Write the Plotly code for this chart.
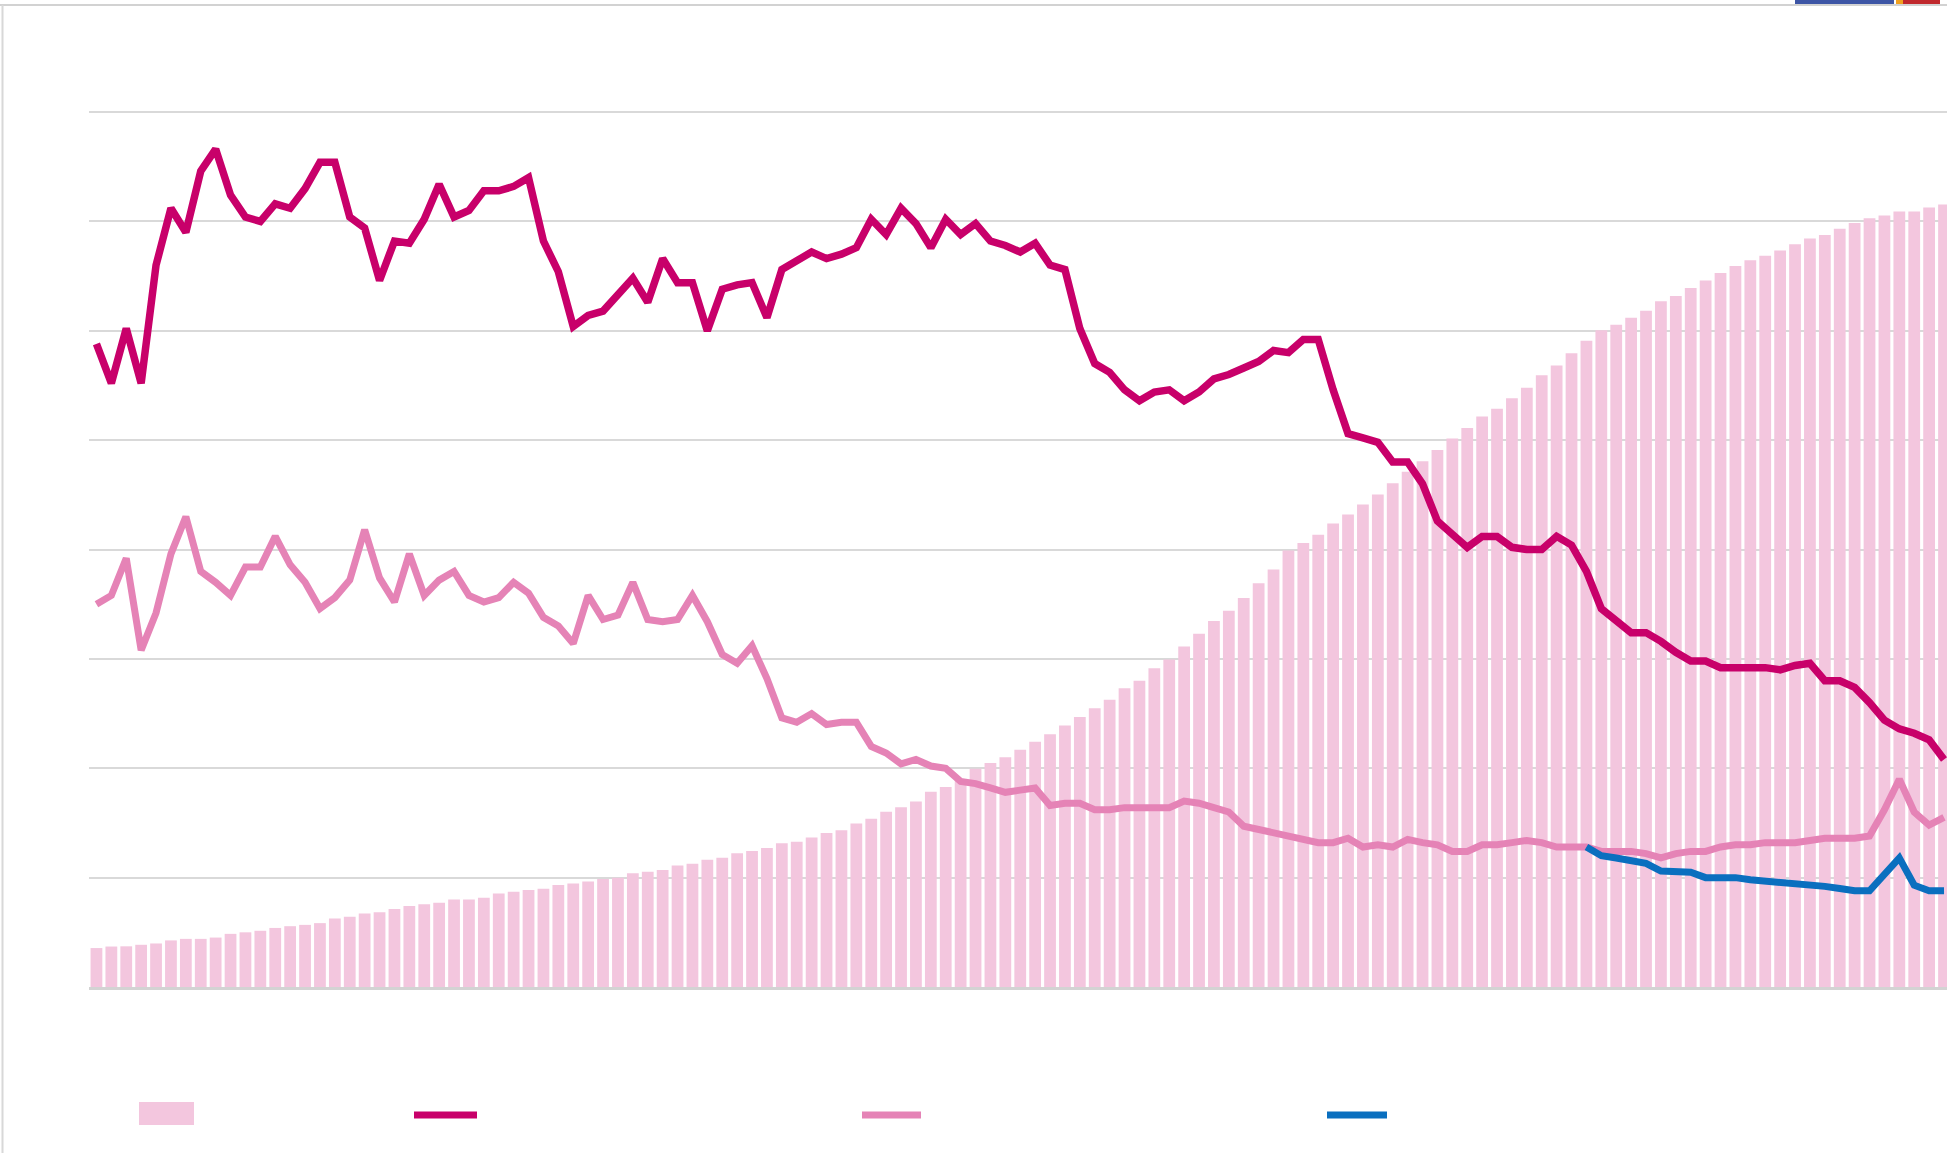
import plotly.graph_objects as go

# ---- data ----
years = list(range(1899, 2024))  # 125 yearly categories (axis labels are not shown)

population = [
    1.78, 1.85, 1.86, 1.93, 1.99, 2.13, 2.20, 2.20, 2.26, 2.43,
    2.50, 2.57, 2.70, 2.78, 2.84, 2.92, 3.13, 3.21, 3.36, 3.42,
    3.57, 3.70, 3.78, 3.85, 4.00, 4.00, 4.08, 4.28, 4.36, 4.43,
    4.49, 4.66, 4.73, 4.82, 4.94, 4.99, 5.20, 5.27, 5.35, 5.55,
    5.63, 5.82, 5.91, 6.12, 6.22, 6.36, 6.57, 6.64, 6.83, 7.04,
    7.17, 7.48, 7.69, 8.01, 8.22, 8.48, 8.93, 9.14, 9.45, 9.98,
    10.24, 10.50, 10.85, 11.21, 11.55, 11.95, 12.34, 12.74, 13.13, 13.66,
    14.00, 14.57, 14.97, 15.57, 16.15, 16.73, 17.20, 17.78, 18.46, 19.09,
    19.96, 20.30, 20.67, 21.19, 21.60, 22.06, 22.51, 23.03, 23.56, 24.03,
    24.55, 25.08, 25.55, 26.08, 26.44, 26.92, 27.39, 27.97, 28.41, 28.97,
    29.54, 30.02, 30.28, 30.59, 30.91, 31.35, 31.59, 31.96, 32.30, 32.64,
    32.96, 33.22, 33.43, 33.67, 33.95, 34.22, 34.38, 34.66, 34.93, 35.14,
    35.27, 35.45, 35.45, 35.64, 35.77,
]

series_dark = [
    29.4, 27.6, 30.1, 27.6, 33.0, 35.6, 34.5, 37.3, 38.3, 36.2,
    35.2, 35.0, 35.8, 35.6, 36.5, 37.7, 37.7, 35.2, 34.7, 32.3,
    34.1, 34.0, 35.1, 36.7, 35.2, 35.5, 36.4, 36.4, 36.6, 37.0,
    34.1, 32.7, 30.2, 30.7, 30.9, 31.6, 32.4, 31.3, 33.3, 32.2,
    32.2, 30.0, 31.9, 32.1, 32.2, 30.6, 32.8, 33.2, 33.6, 33.3,
    33.5, 33.8, 35.1, 34.4, 35.6, 34.9, 33.8, 35.1, 34.4, 34.9,
    34.1, 33.9, 33.6, 34.0, 33.0, 32.8, 30.1, 28.5, 28.1, 27.3,
    26.8, 27.2, 27.3, 26.8, 27.2, 27.8, 28.0, 28.3, 28.6, 29.1,
    29.0, 29.6, 29.6, 27.3, 25.3, 25.1, 24.9, 24.0, 24.0, 23.0,
    21.3, 20.7, 20.1, 20.6, 20.6, 20.1, 20.0, 20.0, 20.6, 20.2,
    19.0, 17.3, 16.8, 16.2, 16.2, 15.8, 15.3, 14.9, 14.9, 14.6,
    14.6, 14.6, 14.6, 14.5, 14.7, 14.8, 14.0, 14.0, 13.7, 13.0,
    12.2, 11.8, 11.6, 11.3, 10.4,
]

series_pink = [
    17.5, 17.9, 19.6, 15.4, 17.1, 19.8, 21.5, 19.0, 18.5, 17.9,
    19.2, 19.2, 20.6, 19.3, 18.5, 17.3, 17.8, 18.6, 20.9, 18.7,
    17.6, 19.8, 17.9, 18.6, 19.0, 17.9, 17.6, 17.8, 18.5, 18.0,
    16.9, 16.5, 15.7, 17.9, 16.8, 17.0, 18.5, 16.8, 16.7, 16.8,
    17.9, 16.7, 15.2, 14.8, 15.6, 14.1, 12.3, 12.1, 12.5, 12.0,
    12.1, 12.1, 11.0, 10.7, 10.2, 10.4, 10.1, 10.0, 9.4, 9.3,
    9.1, 8.9, 9.0, 9.1, 8.3, 8.4, 8.4, 8.1, 8.1, 8.2,
    8.2, 8.2, 8.2, 8.5, 8.4, 8.2, 8.0, 7.35, 7.2, 7.1,
    6.9, 6.8, 6.6, 6.6, 6.8, 6.4, 6.5, 6.4, 6.75, 6.6,
    6.5, 6.2, 6.2, 6.5, 6.5, 6.6, 6.7, 6.6, 6.4, 6.4,
    6.4, 6.2, 6.2, 6.2, 6.1, 5.9, 6.1, 6.2, 6.2, 6.4,
    6.5, 6.5, 6.6, 6.6, 6.6, 6.7, 6.8, 6.8, 6.8, 6.9,
    8.1, 9.5, 8.0, 7.4, 7.75,
]

blue_years = years[100:]
series_blue = [
    6.4, 6.0, 5.9, 5.8, 5.65, 5.3, 5.3, 5.25, 5.0, 5.0,
    5.0, 4.9, 4.85, 4.8, 4.75, 4.65, 4.6, 4.5, 4.4, 4.4,
    5.1, 5.9, 4.65, 4.4, 4.4,
]

# ---- styling ----
W, H = 1947, 1153
PL, PR, PT, PB = 89, 0, 100, 166
Y_TOP = 40.55          # puts the 40-gridline 12 px below the plot top
C_BAR = "#f3c6de"
C_DARK = "#c8006a"
C_PINK = "#e583b6"
C_BLUE = "#0a6fbf"
C_GRID = "#d9d9d9"

fig = go.Figure()
fig.add_trace(go.Bar(x=years, y=population, marker=dict(color=C_BAR, line=dict(width=0)),
                     hoverinfo="skip"))
fig.add_trace(go.Scatter(x=years, y=series_pink, mode="lines",
                         line=dict(color=C_PINK, width=7)))
fig.add_trace(go.Scatter(x=blue_years, y=series_blue, mode="lines",
                         line=dict(color=C_BLUE, width=7)))
fig.add_trace(go.Scatter(x=years, y=series_dark, mode="lines",
                         line=dict(color=C_DARK, width=7.5)))

pw = W - PL - PR
ph = H - PT - PB


def px_x(p):
    return (p - PL) / pw


def px_y(p):
    return (H - PB - p) / ph


shapes = []
# page border lines (top and left)
shapes.append(dict(type="line", xref="paper", yref="paper", x0=px_x(0), x1=px_x(W),
                   y0=px_y(5), y1=px_y(5), line=dict(color="#d2d2d2", width=2)))
shapes.append(dict(type="line", xref="paper", yref="paper", x0=px_x(2.5), x1=px_x(2.5),
                   y0=px_y(5), y1=px_y(H), line=dict(color="#d8d8d8", width=2)))
# cut-off logo at top right
for x0, x1, col in [(1795, 1894, "#3d55a5"), (1896, 1903, "#f0a020"), (1903, 1940, "#c0282d")]:
    shapes.append(dict(type="rect", xref="paper", yref="paper", x0=px_x(x0), x1=px_x(x1),
                       y0=px_y(4), y1=px_y(0), fillcolor=col, line=dict(width=0)))
# legend swatches (no text in the picture)
shapes.append(dict(type="rect", xref="paper", yref="paper", x0=px_x(139), x1=px_x(194),
                   y0=px_y(1125), y1=px_y(1102), fillcolor=C_BAR, line=dict(width=0)))
for x0, x1, col in [(414, 477, C_DARK), (862, 921, C_PINK), (1327, 1387, C_BLUE)]:
    shapes.append(dict(type="line", xref="paper", yref="paper", x0=px_x(x0), x1=px_x(x1),
                       y0=px_y(1115), y1=px_y(1115), line=dict(color=col, width=7)))

fig.update_layout(
    width=W, height=H, autosize=False,
    margin=dict(l=PL, r=PR, t=PT, b=PB, pad=0),
    paper_bgcolor="white", plot_bgcolor="white",
    showlegend=False, bargap=0.21,
    shapes=shapes,
    xaxis=dict(range=[years[0] - 0.5, years[-1] + 0.2], showgrid=False, showticklabels=False,
               ticks="", zeroline=False, showline=True, linecolor="#d3d3d3", linewidth=3),
    yaxis=dict(range=[0, Y_TOP], dtick=5, tick0=0, showgrid=True, gridcolor=C_GRID, gridwidth=2,
               showticklabels=False, ticks="", zeroline=False, showline=False),
    hovermode=False,
)

fig.write_html("out.html", config={"displayModeBar": False},
               post_script="document.body.style.margin='0';document.body.style.overflow='hidden';")
